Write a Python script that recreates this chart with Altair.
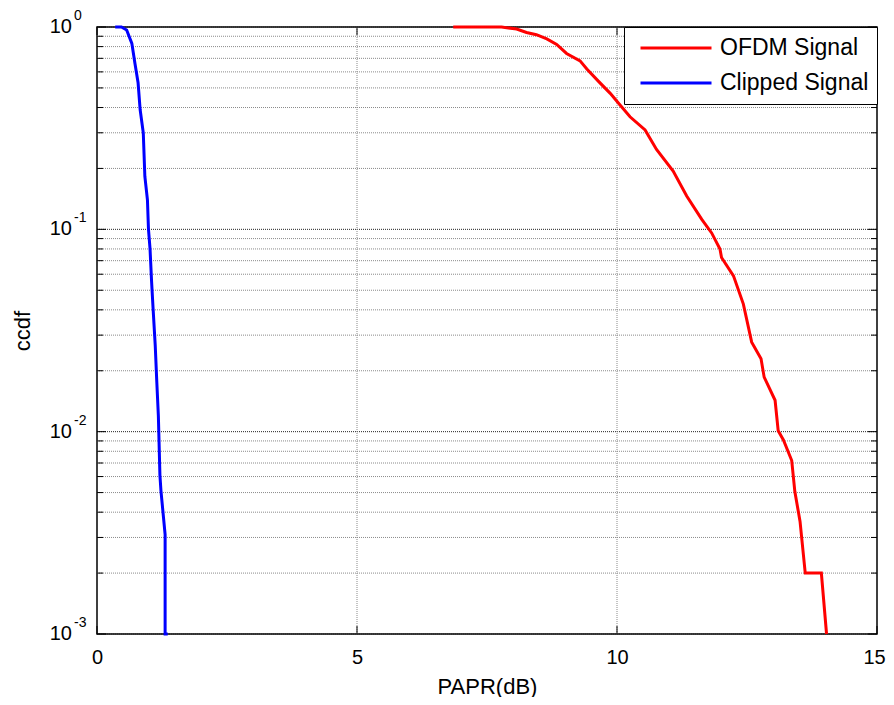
import altair as alt
import pandas as pd

# ---------------- data ----------------
ofdm_x = [6.85, 7.78, 8.07, 8.26, 8.45, 8.65, 8.84, 9.03, 9.29, 9.42, 9.64, 9.87,
          10.03, 10.25, 10.54, 10.76, 11.08, 11.34, 11.63, 11.82, 11.98, 12.01,
          12.24, 12.43, 12.59, 12.77, 12.83, 13.04, 13.10, 13.20, 13.36, 13.42,
          13.52, 13.62, 13.93, 14.03]
ofdm_y = [1.0, 1.0, 0.977, 0.94, 0.916, 0.873, 0.82, 0.74, 0.68, 0.62, 0.54, 0.47,
          0.42, 0.36, 0.31, 0.248, 0.194, 0.146, 0.112, 0.096, 0.08, 0.0726,
          0.0589, 0.0427, 0.0277, 0.0229, 0.0186, 0.0143, 0.0101, 0.0091, 0.0072, 0.00506,
          0.0036, 0.002, 0.002, 0.001]

clip_x = [0.35, 0.47, 0.57, 0.67, 0.73, 0.79, 0.83, 0.89, 0.92, 0.97, 0.99, 1.02,
          1.05, 1.08, 1.12, 1.15, 1.18, 1.21, 1.23, 1.31, 1.31, 1.36]
clip_y = [1.0, 1.0, 0.967, 0.83, 0.66, 0.53, 0.39, 0.30, 0.183, 0.14, 0.10, 0.08,
          0.055, 0.04, 0.0266, 0.0176, 0.012, 0.0061, 0.0051, 0.0031, 0.001, 0.001]

series_names = ["OFDM Signal", "Clipped Signal"]
series_colors = ["#ff0000", "#0000ff"]

x_ticks = [0, 5, 10, 15]
x_grid = [5, 10]
decades = [0.001, 0.01, 0.1, 1.0]
decade_exps = ["-3", "-2", "-1", "0"]
minor_vals = [k * 10.0 ** e for e in (-3, -2, -1) for k in range(2, 10)]

# ---------------- tables ----------------
rows = []
for i, (x, y) in enumerate(zip(ofdm_x, ofdm_y)):
    rows.append({"series": series_names[0], "x": x, "y": y, "idx": i})
for i, (x, y) in enumerate(zip(clip_x, clip_y)):
    rows.append({"series": series_names[1], "x": x, "y": y, "idx": i})
lines_df = pd.DataFrame(rows)

dec_df = pd.DataFrame({"v": decades, "exp": decade_exps})
minor_df = pd.DataFrame({"v": minor_vals})
xt_df = pd.DataFrame({"v": x_ticks})
xg_df = pd.DataFrame({"v": x_grid})

W, H = 780, 607
FONT = "Liberation Sans"

xscale = alt.Scale(domain=[0, 15], nice=False, zero=False)
yscale = alt.Scale(type="log", domain=[0.001, 1], nice=False)

x_axis = alt.Axis(values=x_ticks, title="PAPR(dB)", labelPadding=13, ticks=False,
                  labelFlush=False, domain=False, grid=False, titleY=59,
                  labelOffset={"condition": {"test": "datum.value == 15", "value": -3},
                               "value": 0},
                  titleBaseline="alphabetic")
y_axis = alt.Axis(labels=False, ticks=False, domain=False, grid=False, title="ccdf",
                  titleX=-68, titleY=H / 2, titleBaseline="alphabetic")


def X(field):
    return alt.X(field, scale=xscale, axis=x_axis, title="PAPR(dB)")


def Y(field):
    return alt.Y(field, scale=yscale, axis=y_axis, title="ccdf")


# ---------------- grid ----------------
grid_minor = alt.Chart(minor_df).mark_rule(color="#8a8a8a", strokeWidth=1, strokeDash=[1, 1]).encode(
    y=Y("v:Q"), x=alt.value(0), x2=alt.value(W))
grid_major = alt.Chart(dec_df).mark_rule(color="#222222", strokeWidth=1, strokeDash=[1, 1]).encode(
    y=Y("v:Q"), x=alt.value(0), x2=alt.value(W))
grid_x = alt.Chart(xg_df).mark_rule(color="#8a8a8a", strokeWidth=1, strokeDash=[1, 1]).encode(
    x=X("v:Q"), y=alt.value(0), y2=alt.value(H))

# ---------------- inner ticks ----------------
tick_minor_l = alt.Chart(minor_df).mark_rule(color="black").encode(
    y=Y("v:Q"), x=alt.value(0), x2=alt.value(6))
tick_minor_r = alt.Chart(minor_df).mark_rule(color="black").encode(
    y=Y("v:Q"), x=alt.value(W - 6), x2=alt.value(W))
tick_major_l = alt.Chart(dec_df).mark_rule(color="black").encode(
    y=Y("v:Q"), x=alt.value(0), x2=alt.value(9))
tick_major_r = alt.Chart(dec_df).mark_rule(color="black").encode(
    y=Y("v:Q"), x=alt.value(W - 9), x2=alt.value(W))
tick_x_b = alt.Chart(xt_df).mark_rule(color="black").encode(
    x=X("v:Q"), y=alt.value(H - 8), y2=alt.value(H))
tick_x_t = alt.Chart(xt_df).mark_rule(color="black").encode(
    x=X("v:Q"), y=alt.value(0), y2=alt.value(8))

# ---------------- y tick labels (10 with superscript) ----------------
ylab_base = alt.Chart(dec_df).mark_text(align="right", baseline="middle", fontSize=20,
                                        font=FONT, color="black").encode(
    y=Y("v:Q"), x=alt.value(-25), text=alt.value("10"))
ylab_exp = alt.Chart(dec_df).mark_text(align="left", baseline="middle", fontSize=14,
                                       font=FONT, color="black", dy=-11).encode(
    y=Y("v:Q"), x=alt.value(-23), text="exp:N")

# ---------------- data lines ----------------
lines = alt.Chart(lines_df).mark_line(strokeWidth=3, clip=False).encode(
    x=X("x:Q"),
    y=Y("y:Q"),
    color=alt.Color("series:N",
                    scale=alt.Scale(domain=series_names, range=series_colors),
                    legend=alt.Legend(title=None, orient="top-right", offset=0, padding=8,
                                      strokeColor="black", fillColor="white",
                                      symbolType="stroke", symbolSize=5041,
                                      symbolStrokeWidth=3, symbolOffset=7,
                                      labelFontSize=23, labelFont=FONT, labelOffset=7,
                                      labelExpr="datum.label + '\u00a0'",
                                      clipHeight=26, rowPadding=9)),
    order=alt.Order("idx:Q"),
)

chart = alt.layer(
    grid_minor, grid_major, grid_x,
    tick_minor_l, tick_minor_r, tick_major_l, tick_major_r, tick_x_b, tick_x_t,
    ylab_base, ylab_exp, lines,
).properties(
    width=W, height=H,
    autosize=alt.AutoSizeParams(type="none"),
    padding={"left": 89, "top": 19, "right": 9, "bottom": 63},
    background="white",
).configure_view(
    stroke="black", strokeWidth=1.5,
).configure_axis(
    labelFont=FONT, titleFont=FONT, labelFontSize=20, titleFontSize=22,
    labelColor="black", titleColor="black", titleFontWeight="normal",
)

chart.save("out.html", embed_options={"renderer": "svg", "actions": False})
